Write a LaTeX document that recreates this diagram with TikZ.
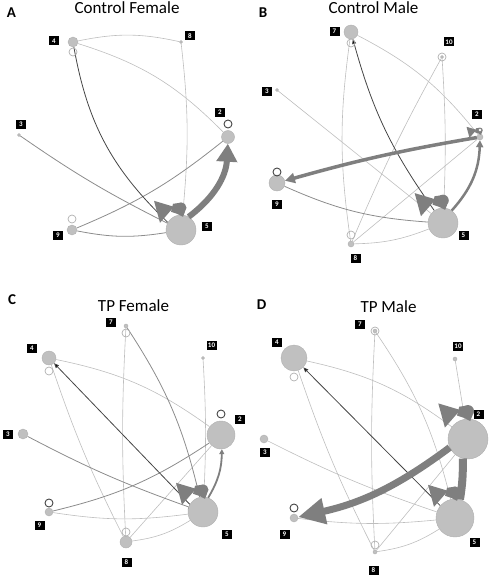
\documentclass[tikz,border=0pt]{standalone}
\usepackage{fontspec}
\setmainfont{Carlito}
\usetikzlibrary{arrows.meta,positioning,backgrounds}
\definecolor{vfill}{HTML}{C0C0C0}
\definecolor{vline}{HTML}{B0B0B0}
\definecolor{elight}{HTML}{BEBEBE}
\definecolor{emid}{HTML}{8C8C8C}
\definecolor{edark}{HTML}{454545}
\definecolor{ethick}{HTML}{7F7F7F}
\tikzset{
  vtx/.style={circle,fill=vfill,draw=vline,line width=0.4pt,inner sep=0pt},
  tag/.style={fill=black,text=white,font=\bfseries\fontsize{7}{7}\selectfont,minimum width=10pt,minimum height=9pt,inner sep=1pt},
  title/.style={anchor=base,font=\fontsize{17}{19}\selectfont},
  panel/.style={font=\bfseries\fontsize{15}{15}\selectfont},
  ring/.style={draw=vline,line width=0.7pt},
  darkring/.style={draw=edark,line width=0.9pt},
  lightedge/.style={draw=elight,line width=0.6pt},
  midedge/.style={draw=emid,line width=0.8pt},
  darkedge/.style={draw=edark,line width=0.8pt},
  fatedge/.style={draw=ethick},
  selfloop/.pic={
    \fill[ethick] (-27,14) -- (-21,-8) -- (-7,8) -- cycle;
    \fill[ethick] (0,7) circle (5.5);
    \fill[ethick] (-10,3) -- (-8,11) -- (-1,12) -- (4,3) -- (2,-2) -- (-4,1) -- cycle;
  }
}
\begin{document}
\begin{tikzpicture}[x=1pt,y=1pt]
\useasboundingbox (0,0) rectangle (495,-578);

% panel A
\node[panel] at (11.5,-13) {A};
\node[title] at (127,-14) {Control Female};
\node[vtx,minimum size=10] (a4) at (73,-42) {};
\node[vtx,minimum size=3] (a8) at (181,-42) {};
\node[vtx,minimum size=13] (a2) at (228,-137) {};
\node[vtx,minimum size=3] (a3) at (19,-135) {};
\node[vtx,minimum size=10] (a9) at (72,-230) {};
\node[vtx,minimum size=30] (a5) at (181,-230) {};
\node[tag] at (54,-41) {4};
\node[tag] at (190,-36) {8};
\node[tag] at (220,-112) {2};
\node[tag] at (21,-124) {3};
\node[tag] at (58,-235) {9};
\node[tag] at (207,-226) {5};
\draw[ring] ([yshift=-10pt]a4.center) circle (4);
\draw[ring] ([yshift=11pt]a9.center) circle (4);
\draw[darkring] ([yshift=13pt]a2.center) circle (4);
\begin{pgfonlayer}{background}
\path[lightedge]
 (a4) edge[bend left=12] (a8)
 (a4) edge[bend left=14] (a2)
 (a8) edge[bend left=6] (a5)
 ;
\path[midedge]
 (a3) edge[bend right=4] (a5)
 (a9) edge[bend right=8] (a2)
 (a9) edge[bend right=10] (a5)
 ;
\path[darkedge] (a4) edge[bend right=18] (a5.150);
\end{pgfonlayer}
\pic at (a5.north) {selfloop};
\draw[fatedge,line width=6pt,-{Triangle[length=18pt,width=20pt]}] (a5.60) to[bend right=25] (a2);

% panel B
\node[panel] at (263,-12.5) {B};
\node[title] at (373.5,-14) {Control Male};
\node[vtx,minimum size=14] (b7) at (351,-32) {};
\node[vtx,minimum size=3] (b10) at (442,-57) {};
\node[vtx,minimum size=3] (b3) at (277,-90) {};
\node[vtx,minimum size=6] (b2) at (480,-137) {};
\node[vtx,minimum size=16] (b9) at (277,-183) {};
\node[vtx,minimum size=30] (b5) at (443,-223) {};
\node[vtx,minimum size=6] (b8) at (351,-244) {};
\node[tag] at (334.5,-31.5) {7};
\node[tag] at (449,-42) {10};
\node[tag] at (267,-91) {3};
\node[tag] at (477,-114.5) {2};
\node[tag] at (277,-204) {9};
\node[tag] at (463.5,-235.5) {5};
\node[tag] at (355.5,-258) {8};
\draw[ring] ([yshift=-11pt]b7.center) circle (4);
\draw[ring] (b10.center) circle (4);
\draw[darkring] ([yshift=11pt]b9.center) circle (4);
\draw[ring] ([yshift=9pt]b8.center) circle (4);
\begin{pgfonlayer}{background}
\path[lightedge]
 (b7) edge[bend left=12] (b2)
 (b7) edge[bend right=8] (b8)
 (b10) edge[bend right=3] (b8)
 (b10) edge[bend left=3] (b5)
 (b3) edge (b5)
 (b8) edge (b2)
 (b8) edge[bend right=10] (b5)
 ;
\path[midedge] (b9) edge[bend right=10] (b5);
\path[darkedge,-{Triangle[length=5pt,width=4pt]}] (b5.125) edge[bend left=10] (b7);
\end{pgfonlayer}
\pic[scale=1.05] at (b5.north) {selfloop};
\pic[scale=0.5] at (b2.north) {selfloop};
\fill[white] ([yshift=7pt]b2.center) circle (1.3);
\draw[fatedge,line width=3.5pt,-{Triangle[length=10pt,width=10pt]}] (b2) to[bend right=3] (b9);
\draw[fatedge,line width=2.5pt,-{Triangle[length=7pt,width=7pt]}] (b5.55) to[bend right=20] (b2);

% panel C
\node[panel] at (12,-300) {C};
\node[title] at (133.5,-311) {TP Female};
\node[vtx,minimum size=4] (c7) at (126,-326) {};
\node[vtx,minimum size=14] (c4) at (49,-358) {};
\node[vtx,minimum size=3] (c10) at (203,-358) {};
\node[vtx,minimum size=28] (c2) at (221,-435) {};
\node[vtx,minimum size=10] (c3) at (23,-434) {};
\node[vtx,minimum size=8] (c9) at (49,-512) {};
\node[vtx,minimum size=30] (c5) at (203,-512) {};
\node[vtx,minimum size=12] (c8) at (126,-542) {};
\node[tag] at (111,-322) {7};
\node[tag] at (32,-348) {4};
\node[tag] at (211.5,-345) {10};
\node[tag] at (240,-419) {2};
\node[tag] at (8,-434) {3};
\node[tag] at (39.5,-525) {9};
\node[tag] at (227,-534) {5};
\node[tag] at (126.5,-562) {8};
\draw[ring] ([yshift=-7pt]c7.center) circle (4);
\draw[ring] ([yshift=-13pt]c4.center) circle (4);
\draw[darkring] ([yshift=21pt]c2.center) circle (4);
\draw[darkring] ([yshift=9pt]c9.center) circle (4);
\draw[ring] ([yshift=10pt]c8.center) circle (4);
\begin{pgfonlayer}{background}
\path[lightedge]
 (c4) edge[bend left=12] (c2)
 (c4) edge[bend right=4] (c8)
 (c7) edge[bend right=3] (c8)
 (c10) edge[bend left=3] (c5)
 (c8) edge (c2)
 (c8) edge[bend right=12] (c5)
 (c9) edge[bend right=8] (c5)
 ;
\path[midedge]
 (c7) edge[bend left=10] (c5)
 (c3) edge[bend right=4] (c5)
 (c9) edge[bend right=10] (c2)
 ;
\path[darkedge,-{Triangle[length=5pt,width=4pt]}] (c5.150) edge (c4);
\end{pgfonlayer}
\pic at (c5.north) {selfloop};
\draw[fatedge,line width=1.8pt,-{Triangle[length=5pt,width=5pt]}] (c5.70) to[bend right=15] (c2);

% panel D
\node[panel] at (261.5,-304.5) {D};
\node[title] at (388.5,-312) {TP Male};
\node[vtx,minimum size=4] (d7) at (375,-331) {};
\node[vtx,minimum size=26] (d4) at (294,-358) {};
\node[vtx,minimum size=4] (d10) at (455,-359) {};
\node[vtx,minimum size=40] (d2) at (468,-439) {};
\node[vtx,minimum size=8] (d3) at (264,-439) {};
\node[vtx,minimum size=8] (d9) at (294,-518) {};
\node[vtx,minimum size=38] (d5) at (455,-518) {};
\node[vtx,minimum size=4] (d8) at (375,-552) {};
\node[tag] at (360,-324) {7};
\node[tag] at (277,-342) {4};
\node[tag] at (458,-346) {10};
\node[tag] at (478.5,-414.5) {2};
\node[tag] at (265,-452) {3};
\node[tag] at (284.5,-534) {9};
\node[tag] at (474.5,-542) {5};
\node[tag] at (373.5,-570) {8};
\draw[ring] (d7.center) circle (4);
\draw[ring] ([yshift=-19pt]d4.center) circle (4);
\draw[darkring] ([yshift=10pt]d9.center) circle (4);
\draw[ring] ([yshift=7pt]d8.center) circle (4);
\begin{pgfonlayer}{background}
\path[lightedge]
 (d4) edge[bend left=12] (d2)
 (d4) edge[bend right=4] (d8)
 (d7) edge[bend right=3] (d8)
 (d7) edge[bend left=10] (d5)
 (d10) edge (d2)
 (d3) edge[bend right=4] (d5)
 (d8) edge (d2)
 (d8) edge[bend right=12] (d5)
 (d9) edge[bend right=6] (d5)
 ;
\path[darkedge,-{Triangle[length=5pt,width=4pt]}] (d5.140) edge (d4);
\end{pgfonlayer}
\pic[scale=1.1] at (d2.north) {selfloop};
\pic at (d5.north) {selfloop};
\draw[fatedge,line width=8pt] (d2.-105) to[bend left=5] (d5.75);
\draw[fatedge,line width=7pt,-{Triangle[length=27pt,width=25pt]}] (d2.205) to[bend left=12] (d9);
\end{tikzpicture}
\end{document}
